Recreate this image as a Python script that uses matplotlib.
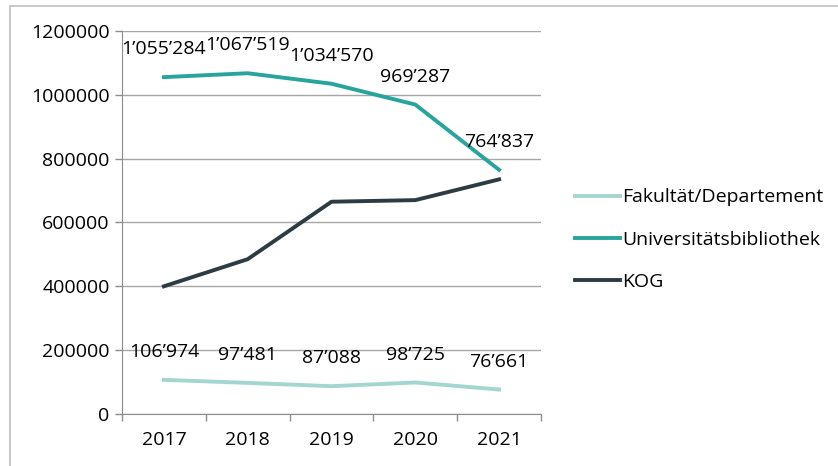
import matplotlib.pyplot as plt
from matplotlib.patches import Rectangle

years = ["2017", "2018", "2019", "2020", "2021"]
fakultaet = [106974, 97481, 87088, 98725, 76661]
unibib = [1055284, 1067519, 1034570, 969287, 764837]
kog = [400000, 485000, 665000, 670000, 735000]

fak_labels = ["106’974", "97’481", "87’088", "98’725", "76’661"]
uni_labels = ["1’055’284", "1’067’519", "1’034’570", "969’287", "764’837"]

plt.rcParams['font.family'] = ['Open Sans', 'DejaVu Sans']
fs = 14

fig = plt.figure(figsize=(8.38, 4.66), dpi=100)
ax = fig.add_axes([0.1456, 0.1116, 0.5, 0.822])

# outer frame of the original chart
fig.patches.append(Rectangle((10 / 838, -0.05), 1.1, (460 / 466) + 0.05,
                             transform=fig.transFigure, fill=False,
                             edgecolor="#bfbfbf", linewidth=1.2))

x = list(range(len(years)))
ax.plot(x, fakultaet, color="#a3d6cf", lw=2.8, label="Fakultät/Departement")
ax.plot(x, unibib, color="#27a59d", lw=2.8, label="Universitätsbibliothek")
ax.plot(x, kog, color="#2d3b42", lw=2.8, label="KOG")

for xi, v, t in zip(x, unibib, uni_labels):
    ax.annotate(t, (xi, v), xytext=(0, 20), textcoords="offset points",
                ha="center", va="center", fontsize=fs)
for xi, v, t in zip(x, fakultaet, fak_labels):
    ax.annotate(t, (xi, v), xytext=(0, 20), textcoords="offset points",
                ha="center", va="center", fontsize=fs)

ax.set_xlim(-0.5, 4.5)
ax.set_ylim(0, 1200000)
ax.set_yticks(range(0, 1200001, 200000))
ax.set_yticklabels([str(v) for v in range(0, 1200001, 200000)])
ax.set_xticks(x)
ax.set_xticklabels(years)
ax.set_xticks([i - 0.5 for i in range(6)], minor=True)
ax.tick_params(axis="x", which="major", length=0, pad=12, labelsize=fs)
ax.tick_params(axis="x", which="minor", length=5, color="#8c8c8c", width=1)
ax.tick_params(axis="y", length=5, color="#8c8c8c", width=1, pad=4, labelsize=fs)

ax.grid(axis="y", color="#a6a6a6", lw=1)
ax.set_axisbelow(True)
for s in ["top", "right"]:
    ax.spines[s].set_visible(False)
for s in ["left", "bottom"]:
    ax.spines[s].set_color("#8c8c8c")

ax.legend(loc="center left", bbox_to_anchor=(1.04, 0.455), frameon=False,
          fontsize=fs, handlelength=2.3, handletextpad=0.1, labelspacing=1.25)

fig.savefig("out.png", dpi=100)
